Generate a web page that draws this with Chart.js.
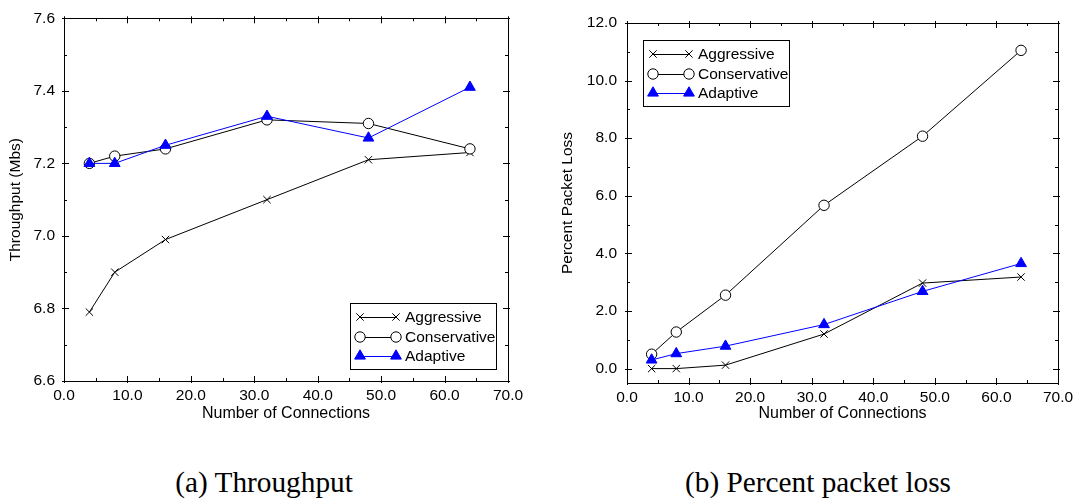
<!DOCTYPE html>
<html>
<head>
<meta charset="utf-8">
<script src="https://cdn.jsdelivr.net/npm/chart.js@4/dist/chart.umd.min.js"></script>
<style>
  html, body { margin: 0; padding: 0; background: #fff; width: 1079px; height: 499px; overflow: hidden; }
  #wrap { position: relative; width: 1079px; height: 499px; }
  canvas { position: absolute; top: 0; }
  #throughputChart { left: 0; }
  #lossChart { left: 540px; }
  .caption {
    position: absolute; top: 468px; transform: translateX(-50%);
    font-family: 'Liberation Serif', 'Times New Roman', serif; font-size: 29.3px;
    line-height: 1; color: #000; white-space: nowrap;
  }
</style>
</head>
<body>
<div id="wrap">
  <canvas id="throughputChart" width="540" height="440"></canvas>
  <canvas id="lossChart" width="539" height="440"></canvas>
  <div class="caption" style="left:264px">(a) Throughput</div>
  <div class="caption" style="left:818px">(b) Percent packet loss</div>
</div>
<script>
// Number of simultaneous connections (x values shared by both plots)
const connections = [4, 8, 16, 32, 48, 64];

// Throughput in Mbs
const throughputAggressive   = [6.79, 6.90, 6.99, 7.10, 7.21, 7.23];
const throughputConservative = [7.20, 7.22, 7.24, 7.32, 7.31, 7.24];
const throughputAdaptive     = [7.20, 7.20, 7.25, 7.33, 7.27, 7.41];

// Packet loss in percent
const lossAggressive   = [0.0, 0.0, 0.12, 1.20, 2.97, 3.18];
const lossConservative = [0.50, 1.27, 2.55, 5.67, 8.07, 11.05];
const lossAdaptive     = [0.30, 0.52, 0.78, 1.53, 2.68, 3.65];

// Axis tick values
const connectionTicks = [0, 10, 20, 30, 40, 50, 60, 70];
const throughputTicks = [6.6, 6.8, 7.0, 7.2, 7.4, 7.6];
const lossTicks       = [0, 2, 4, 6, 8, 10, 12];

const seriesNames = ['Aggressive', 'Conservative', 'Adaptive'];
const xAxisName = 'Number of Connections';

const SANS = "'Liberation Sans', Arial, Helvetica, sans-serif";
const LABEL_SIZE = 15.5;
Chart.defaults.font.family = SANS;
Chart.defaults.font.size = LABEL_SIZE;
Chart.defaults.color = '#000';

const toPoints = ys => ys.map((y, i) => ({ x: connections[i], y }));

function buildDatasets(aggr, cons, adap) {
  return [
    { label: seriesNames[0], data: toPoints(aggr), borderColor: '#000', borderWidth: 1,
      pointStyle: 'crossRot', pointRadius: 5.2, pointBorderColor: '#000', pointBorderWidth: 1,
      pointBackgroundColor: '#000', order: 3 },
    { label: seriesNames[1], data: toPoints(cons), borderColor: '#000', borderWidth: 1,
      pointStyle: 'circle', pointRadius: 5.2, pointBorderColor: '#000', pointBorderWidth: 1,
      pointBackgroundColor: '#fff', order: 2 },
    { label: seriesNames[2], data: toPoints(adap), borderColor: '#0000ff', borderWidth: 1,
      pointStyle: 'triangle', pointRadius: 6.2, pointBorderColor: '#0000ff', pointBorderWidth: 1,
      pointBackgroundColor: '#0000ff', order: 1 }
  ];
}

// Frame around the plot area with inward ticks on all four sides
const frameTicks = {
  id: 'frameTicks',
  beforeDatasetsDraw(chart) {
    const { ctx, chartArea: a, scales } = chart;
    const crisp = v => Math.round(v) + 0.5;
    ctx.save();
    ctx.strokeStyle = '#000';
    ctx.lineWidth = 1;
    ctx.strokeRect(crisp(a.left), crisp(a.top), Math.round(a.right) - Math.round(a.left), Math.round(a.bottom) - Math.round(a.top));
    const line = (x1, y1, x2, y2) => { ctx.beginPath(); ctx.moveTo(x1, y1); ctx.lineTo(x2, y2); ctx.stroke(); };
    const split = s => {
      const majors = s.ticks.map(t => t.value);
      const minors = [];
      for (let i = 0; i < majors.length - 1; i++) minors.push((majors[i] + majors[i + 1]) / 2);
      return { majors, minors };
    };
    const xs = split(scales.x);
    xs.majors.forEach(v => {
      const p = crisp(scales.x.getPixelForValue(v));
      line(p, a.bottom + 2, p, a.bottom - 5);
      line(p, a.top - 2, p, a.top + 5);
    });
    xs.minors.forEach(v => {
      const p = crisp(scales.x.getPixelForValue(v));
      line(p, a.bottom, p, a.bottom - 3);
      line(p, a.top, p, a.top + 3);
    });
    const ys = split(scales.y);
    ys.majors.forEach(v => {
      const p = crisp(scales.y.getPixelForValue(v));
      line(a.left - 2, p, a.left + 5, p);
      line(a.right + 2, p, a.right - 5, p);
    });
    ys.minors.forEach(v => {
      const p = crisp(scales.y.getPixelForValue(v));
      line(a.left, p, a.left + 3, p);
      line(a.right, p, a.right - 3, p);
    });
    ctx.restore();
  }
};

// Horizontal axis name, centred under the plot
const xAxisCaption = {
  id: 'xAxisCaption',
  afterDraw(chart, args, opts) {
    const { ctx, chartArea: a } = chart;
    ctx.save();
    ctx.font = `${opts.size}px ${SANS}`;
    ctx.fillStyle = '#000';
    ctx.textAlign = 'center';
    ctx.textBaseline = 'middle';
    ctx.fillText(opts.text, (a.left + a.right) / 2, opts.y);
    ctx.restore();
  }
};

// Boxed key: marker - line - marker, then the series name
const boxedKey = {
  id: 'boxedKey',
  afterDatasetsDraw(chart, args, opts) {
    const { ctx, chartArea: a } = chart;
    const sets = chart.data.datasets;
    ctx.save();
    ctx.font = `${LABEL_SIZE}px ${SANS}`;
    const textW = Math.max(...sets.map(d => ctx.measureText(d.label).width));
    const w = Math.round(54.5 + textW + 1.5);
    const rowH = 19.5, h = 66;
    let bx, by;
    if (opts.corner === 'bottom-right') { bx = a.right - opts.dx - w; by = a.bottom - opts.dy - h; }
    else { bx = a.left + opts.dx; by = a.top + opts.dy; }
    bx = Math.round(bx) + 0.5; by = Math.round(by) + 0.5;
    ctx.fillStyle = '#fff';
    ctx.fillRect(bx, by, w, h);
    ctx.strokeStyle = '#000';
    ctx.lineWidth = 1;
    ctx.strokeRect(bx, by, w, h);
    sets.forEach((d, i) => {
      const cy = Math.round(by + 13.5 + i * rowH);
      const x1 = bx + 9.5, x2 = bx + 45.5;
      ctx.strokeStyle = d.borderColor;
      ctx.lineWidth = d.borderWidth;
      ctx.beginPath(); ctx.moveTo(x1, cy + 0.5); ctx.lineTo(x2, cy + 0.5); ctx.stroke();
      const style = { pointStyle: d.pointStyle, radius: d.pointRadius, rotation: 0, borderWidth: d.pointBorderWidth };
      [x1, x2].forEach(px => {
        ctx.fillStyle = d.pointBackgroundColor;
        ctx.strokeStyle = d.pointBorderColor;
        ctx.lineWidth = d.pointBorderWidth;
        Chart.helpers.drawPoint(ctx, style, px, cy);
      });
      ctx.fillStyle = '#000';
      ctx.textAlign = 'left';
      ctx.textBaseline = 'middle';
      ctx.fillText(d.label, bx + 54.5, cy + 1);
    });
    ctx.restore();
  }
};

function makeChart(id, datasets, yCfg, layout, keyOpts) {
  return new Chart(document.getElementById(id), {
    type: 'line',
    data: { datasets },
    plugins: [frameTicks, boxedKey, xAxisCaption],
    options: {
      responsive: false,
      animation: false,
      layout: { padding: layout.padding },
      elements: { line: { tension: 0 } },
      plugins: {
        legend: { display: false },
        tooltip: { enabled: false },
        boxedKey: keyOpts,
        xAxisCaption: { text: xAxisName, size: 16, y: 413.5 }
      },
      scales: {
        x: {
          type: 'linear', min: 0, max: 70,
          afterBuildTicks: s => { s.ticks = connectionTicks.map(v => ({ value: v })); },
          afterFit: s => { s.height = layout.xHeight; },
          ticks: { padding: 5, maxRotation: 0, autoSkip: false, callback: v => Number(v).toFixed(1) },
          grid: { display: false, drawTicks: false },
          border: { display: false }
        },
        y: {
          type: 'linear', min: yCfg.min, max: yCfg.max,
          afterBuildTicks: s => { s.ticks = yCfg.ticks.map(v => ({ value: v })); },
          afterFit: s => { s.width = layout.yWidth; },
          ticks: { padding: layout.yPad, autoSkip: false, callback: v => Number(v).toFixed(1) },
          grid: { display: false, drawTicks: false },
          border: { display: false },
          title: { display: true, text: yCfg.title, font: { size: 15.5 }, padding: { top: layout.yTitlePad, bottom: 0 } }
        }
      }
    }
  });
}

makeChart('throughputChart',
  buildDatasets(throughputAggressive, throughputConservative, throughputAdaptive),
  { min: 6.6, max: 7.6, ticks: throughputTicks, title: 'Throughput (Mbs)' },
  { padding: { left: 0, top: 14, right: 32, bottom: 0 }, xHeight: 59, yWidth: 64, yPad: 9, yTitlePad: 6.5 },
  { corner: 'bottom-right', dx: 12, dy: 12 });

makeChart('lossChart',
  buildDatasets(lossAggressive, lossConservative, lossAdaptive),
  { min: -0.5, max: 12, ticks: lossTicks, title: 'Percent Packet Loss' },
  { padding: { left: 0, top: 23, right: 21, bottom: 0 }, xHeight: 57, yWidth: 87, yPad: 10, yTitlePad: 18.5 },
  { corner: 'top-left', dx: 16, dy: 16.5 });
</script>
</body>
</html>
